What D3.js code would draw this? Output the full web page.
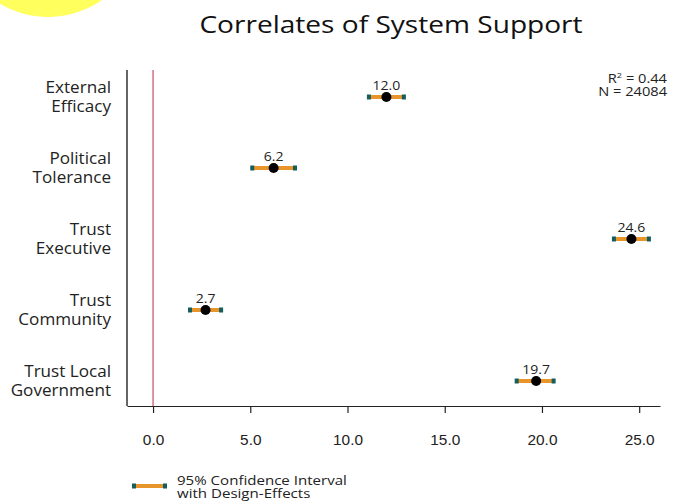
<!DOCTYPE html>
<html>
<head>
<meta charset="utf-8">
<script src="https://cdn.jsdelivr.net/npm/d3@7"></script>
<style>
  html, body { margin: 0; padding: 0; background: #fff; }
  svg { display: block; font-family: "Open Sans", "Noto Sans", sans-serif; }
</style>
</head>
<body>
<svg id="chart" width="678" height="502"></svg>
<script>
// Regression coefficients with 95% confidence intervals
const categories = [
  ["External", "Efficacy"],
  ["Political", "Tolerance"],
  ["Trust", "Executive"],
  ["Trust", "Community"],
  ["Trust Local", "Government"]
];
const estimates = [12.0, 6.2, 24.6, 2.7, 19.7];
const ciLower = [11.1, 5.1, 23.7, 1.9, 18.7];
const ciUpper = [12.9, 7.3, 25.5, 3.5, 20.6];
const xTicks = [0, 5, 10, 15, 20, 25];
const statLines = [["R", "2", " = 0.44"], ["N = 24084"]];
const legendLines = ["95% Confidence Interval", "with Design-Effects"];

const svg = d3.select("#chart");
const W = 678, H = 502;
const margin = { left: 127, right: 18, top: 70, bottom: 96 };

// text drawn inside a group so it can be widened horizontally
function label(parent, x, y, size, sx, anchor, str, fill = "#222") {
  const g = parent.append("g").attr("transform", `translate(${x},${y}) scale(${sx},1)`);
  const t = g.append("text")
    .attr("x", 0).attr("y", 0)
    .attr("text-anchor", anchor)
    .attr("font-size", size)
    .attr("fill", fill);
  if (str !== null) t.text(str);
  return t;
}

// decorative corner disc
svg.append("circle")
  .attr("cx", 48).attr("cy", -77).attr("r", 94)
  .attr("fill", "#ffff5e");

const x = d3.scaleLinear()
  .domain([-1.34, 26.07])
  .range([margin.left, W - margin.right]);

const y = d3.scalePoint()
  .domain(d3.range(categories.length))
  .range([97, 381]);

// title
label(svg, 391, 33, 24, 1.17, "middle", "Correlates of System Support", "#111");

// x axis
const xAxis = d3.axisBottom(x)
  .tickValues(xTicks)
  .tickSize(7)
  .tickSizeOuter(0)
  .tickFormat("");

const gx = svg.append("g")
  .attr("transform", `translate(0,${H - margin.bottom})`)
  .call(xAxis);
gx.select(".domain").attr("stroke", "#222").attr("stroke-width", 1.2);
gx.selectAll(".tick line").attr("stroke", "#222").attr("stroke-width", 1.2);
gx.selectAll(".tick").each(function (d) {
  label(d3.select(this), 0, 39, 14, 1.1, "middle", d3.format(".1f")(d));
});

// y axis line
svg.append("line")
  .attr("x1", margin.left).attr("x2", margin.left)
  .attr("y1", margin.top).attr("y2", H - margin.bottom)
  .attr("stroke", "#333").attr("stroke-width", 1.5);

// zero reference line
svg.append("line")
  .attr("x1", x(0)).attr("x2", x(0))
  .attr("y1", margin.top).attr("y2", H - margin.bottom)
  .attr("stroke", "#cc5c6c").attr("stroke-width", 1.3);

// category labels
categories.forEach((lines, i) => {
  lines.forEach((ln, j) => {
    label(svg, 111, y(i) - 4 + j * 19, 16, 1.07, "end", ln);
  });
});

// confidence intervals
const rows = estimates.map((v, i) => ({ i, v, lo: ciLower[i], hi: ciUpper[i] }));

const g = svg.append("g");
g.selectAll(".ci")
  .data(rows).enter().append("line")
  .attr("x1", d => x(d.lo)).attr("x2", d => x(d.hi))
  .attr("y1", d => y(d.i)).attr("y2", d => y(d.i))
  .attr("stroke", "#e8952c").attr("stroke-width", 4);

rows.forEach(d => {
  [d.lo, d.hi].forEach(e => {
    g.append("rect")
      .attr("x", x(e) - 2).attr("y", y(d.i) - 2.5)
      .attr("width", 4).attr("height", 5)
      .attr("fill", "#155e5e");
  });
});

g.selectAll(".pt")
  .data(rows).enter().append("circle")
  .attr("cx", d => x(d.v)).attr("cy", d => y(d.i))
  .attr("r", 5).attr("fill", "#000");

rows.forEach(d => {
  label(g, x(d.v), y(d.i) - 7, 13, 1.08, "middle", d3.format(".1f")(d.v));
});

// model statistics
const r2 = label(svg, 667, 83, 12, 1.22, "end", null);
r2.append("tspan").text(statLines[0][0]);
r2.append("tspan").attr("dy", -5).attr("font-size", 7.5).text(statLines[0][1]);
r2.append("tspan").attr("dy", 5).text(statLines[0][2]);
label(svg, 667, 96, 12, 1.22, "end", statLines[1][0]);

// legend
const lg = svg.append("g");
lg.append("line")
  .attr("x1", 134).attr("x2", 165)
  .attr("y1", 486).attr("y2", 486)
  .attr("stroke", "#e8952c").attr("stroke-width", 4);
[134, 165].forEach(xx => {
  lg.append("rect")
    .attr("x", xx - 2).attr("y", 483.5)
    .attr("width", 4).attr("height", 5)
    .attr("fill", "#155e5e");
});
legendLines.forEach((ln, j) => {
  label(lg, 177, 484.5 + j * 13, 13, 1.16, "start", ln);
});
</script>
</body>
</html>
